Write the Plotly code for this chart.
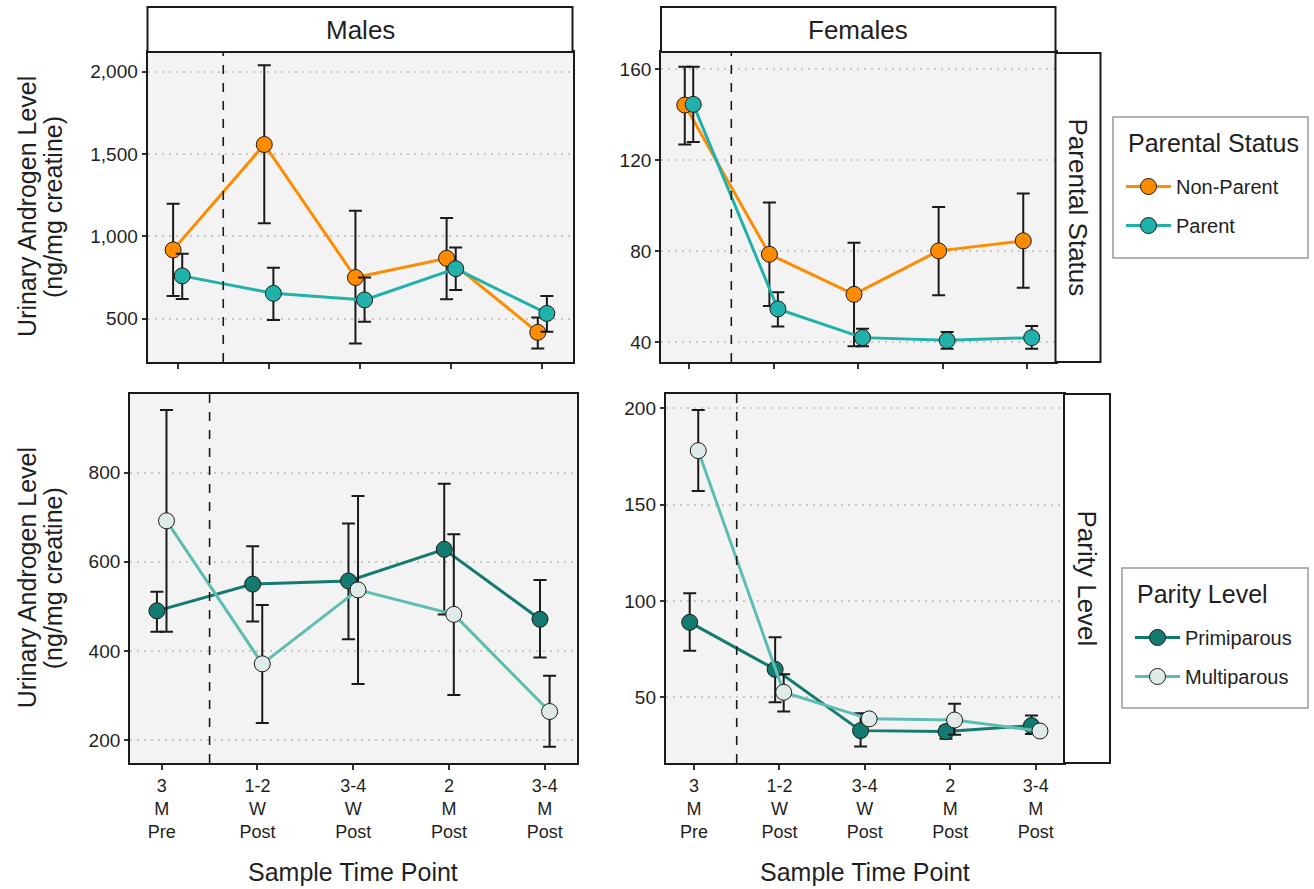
import plotly.graph_objects as go

# ---------------- data ----------------
time_labels = ["3<br>M<br>Pre", "1-2<br>W<br>Post", "3-4<br>W<br>Post", "2<br>M<br>Post", "3-4<br>M<br>Post"]
time_pos = [1, 2, 3, 4, 5]

# Males - Parental Status
male_nonparent = [918, 1558, 750, 867, 417]
male_nonparent_hi = [1198, 2039, 1156, 1111, 508]
male_nonparent_lo = [638, 1080, 350, 618, 319]
male_parent = [760, 654, 614, 804, 532]
male_parent_hi = [894, 810, 750, 932, 638]
male_parent_lo = [620, 492, 482, 674, 421]

# Females - Parental Status
fem_nonparent = [144.2, 78.7, 61.1, 80.2, 84.6]
fem_nonparent_hi = [161, 101.4, 83.8, 99.5, 105.4]
fem_nonparent_lo = [126.9, 56, 38.3, 60.7, 64]
fem_parent = [144.5, 54.7, 42.1, 40.9, 42.1]
fem_parent_hi = [161, 62, 46, 44.6, 47.2]
fem_parent_lo = [128, 47, 38.3, 37.2, 37.2]

# Males - Parity Level
male_primi = [490, 550, 557, 628, 471]
male_primi_hi = [533, 635, 686, 775, 559]
male_primi_lo = [443, 466, 426, 482, 385]
male_multi = [692, 371, 537, 482, 264]
male_multi_hi = [941, 503, 748, 662, 344]
male_multi_lo = [443, 238, 326, 301, 185]

# Females - Parity Level
fem_primi = [88.9, 64.5, 32.7, 32.2, 35.3]
fem_primi_hi = [104, 81.1, 41.7, 35, 40.5]
fem_primi_lo = [74.2, 47.4, 24.4, 28.5, 31]
fem_multi = [178, 52.6, 38.8, 38.2, 32.5]
fem_multi_hi = [199.1, 62, 41, 46.6, 34]
fem_multi_lo = [157, 42.6, 36.5, 30.5, 31]

# ---------------- styling ----------------
W, H = 1314, 889
FONT = "Liberation Sans, Arial, sans-serif"
TXT = "#1f1f1f"
ORANGE = "#FF8C00"
TEAL = "#20B2AA"
DARKTEAL = "#137A6F"
LIGHTLINE = "#5DBDB1"
LIGHTFILL = "#DFEAE9"
PANEL_BG = "#F3F3F3"
DODGE = 0.05


def px(x):
    return x / W


def py(y):
    return 1 - y / H


# panel pixel boxes: (left, right, top, bottom)
panels = {
    1: (147.5, 572.5, 52, 362),
    2: (661, 1055.5, 52, 362),
    3: (130, 576.5, 393.5, 763),
    4: (665.7, 1064, 394, 763),
}
yranges = {1: [237, 2120], 2: [31.4, 167.5], 3: [148.4, 977.8], 4: [15.9, 207.4]}
yticks = {1: [500, 1000, 1500, 2000], 2: [40, 80, 120, 160], 3: [200, 400, 600, 800], 4: [50, 100, 150, 200]}

fig = go.Figure()


def add_series(k, vals, hi, lo, offset, name, line_color, fill_color, legend, show):
    xs = [p + offset for p in time_pos]
    xa = "x" if k == 1 else f"x{k}"
    ya = "y" if k == 1 else f"y{k}"
    # error bars (drawn underneath)
    fig.add_trace(go.Scatter(
        x=xs, y=vals, mode="markers", xaxis=xa, yaxis=ya,
        marker=dict(size=1, opacity=0),
        error_y=dict(type="data", symmetric=False,
                     array=[h - v for h, v in zip(hi, vals)],
                     arrayminus=[v - l for v, l in zip(vals, lo)],
                     color="#1a1a1a", thickness=2, width=6.5),
        showlegend=False, hoverinfo="skip"))
    fig.add_trace(go.Scatter(
        x=xs, y=vals, mode="lines+markers", xaxis=xa, yaxis=ya, name=name,
        line=dict(color=line_color, width=3),
        marker=dict(size=16, color=fill_color, line=dict(color="#1a1a1a", width=1)),
        showlegend=show, legend=legend, legendgroup=name))


add_series(1, male_nonparent, male_nonparent_hi, male_nonparent_lo, -DODGE, "Non-Parent", ORANGE, ORANGE, "legend", False)
add_series(1, male_parent, male_parent_hi, male_parent_lo, DODGE, "Parent", TEAL, TEAL, "legend", False)
add_series(2, fem_nonparent, fem_nonparent_hi, fem_nonparent_lo, -DODGE, "Non-Parent", ORANGE, ORANGE, "legend", True)
add_series(2, fem_parent, fem_parent_hi, fem_parent_lo, DODGE, "Parent", TEAL, TEAL, "legend", True)
add_series(3, male_primi, male_primi_hi, male_primi_lo, -DODGE, "Primiparous", DARKTEAL, DARKTEAL, "legend2", False)
add_series(3, male_multi, male_multi_hi, male_multi_lo, DODGE, "Multiparous", LIGHTLINE, LIGHTFILL, "legend2", False)
add_series(4, fem_primi, fem_primi_hi, fem_primi_lo, -DODGE, "Primiparous", DARKTEAL, DARKTEAL, "legend2", True)
add_series(4, fem_multi, fem_multi_hi, fem_multi_lo, DODGE, "Multiparous", LIGHTLINE, LIGHTFILL, "legend2", True)

# legend boxes: (left, right, top, bottom, title, title_y, first_item_top)
legend_boxes = [
    (1113, 1308, 117, 258, "Parental Status", 143, 167),
    (1122, 1308, 568, 708, "Parity Level", 594, 618),
]

layout = dict(
    width=W, height=H, margin=dict(l=0, r=0, t=0, b=0),
    paper_bgcolor="white", plot_bgcolor=PANEL_BG,
    font=dict(family=FONT, color=TXT, size=18),
    showlegend=True,
)

shapes = []
annotations = []
for i, (l, r, t, b, title, ty, itop) in enumerate(legend_boxes):
    key = "legend" if i == 0 else "legend2"
    layout[key] = dict(x=px(l + 8), y=py(itop), xanchor="left", yanchor="top",
                       bgcolor="rgba(0,0,0,0)", borderwidth=0,
                       font=dict(size=20), tracegroupgap=10, traceorder="grouped",
                       itemwidth=45)
    shapes.append(dict(type="rect", xref="paper", yref="paper",
                       x0=px(l), x1=px(r), y0=py(b), y1=py(t),
                       fillcolor="white", line=dict(color="#9a9a9a", width=1.5),
                       layer="below"))
    annotations.append(dict(text=title, xref="paper", yref="paper",
                            x=px(l + 13), y=py(ty), showarrow=False,
                            xanchor="left", yanchor="middle",
                            font=dict(size=25, color=TXT)))

for k, (l, r, t, b) in panels.items():
    sx = "" if k == 1 else str(k)
    layout[f"xaxis{sx}"] = dict(
        domain=[px(l), px(r)], range=[0.669, 5.331], anchor=f"y{sx}",
        tickvals=time_pos, ticktext=time_labels, showticklabels=(k >= 3),
        ticks="outside", ticklen=5, tickwidth=1.5, tickcolor="#333",
        showgrid=False, zeroline=False, showline=True, mirror=True,
        linecolor="#1a1a1a", linewidth=1.8, tickfont=dict(size=18, color=TXT))
    layout[f"yaxis{sx}"] = dict(
        domain=[py(b), py(t)], range=yranges[k], anchor=f"x{sx}",
        tickvals=yticks[k], tickformat=",", ticks="outside", ticklen=4,
        tickwidth=1.5, tickcolor="#333",
        showgrid=True, gridcolor="#c9c9c9", gridwidth=1.5, griddash="2px,5px",
        zeroline=False, showline=True, mirror=True,
        linecolor="#1a1a1a", linewidth=1.8, tickfont=dict(size=19, color=TXT))
    # dashed vertical separator between pre and post
    shapes.append(dict(type="line", xref=f"x{sx}", yref=f"y{sx} domain",
                       x0=1.5, x1=1.5, y0=0, y1=1,
                       line=dict(color="#1a1a1a", width=1.6, dash="dash")))

# strips (top)
for (l, r), label in [((147.5, 572.5), "Males"), ((661, 1055.5), "Females")]:
    shapes.append(dict(type="rect", xref="paper", yref="paper",
                       x0=px(l), x1=px(r), y0=py(52), y1=py(7),
                       fillcolor="white", line=dict(color="#1a1a1a", width=2)))
    annotations.append(dict(text=label, xref="paper", yref="paper",
                            x=px((l + r) / 2), y=py(30), showarrow=False,
                            xanchor="center", yanchor="middle",
                            font=dict(size=26, color=TXT)))
# strips (right)
for (l, r, t, b), label in [((1055.5, 1100.5, 53, 362), "Parental Status"),
                            ((1064, 1110, 394, 763), "Parity Level")]:
    shapes.append(dict(type="rect", xref="paper", yref="paper",
                       x0=px(l), x1=px(r), y0=py(b), y1=py(t),
                       fillcolor="white", line=dict(color="#1a1a1a", width=2)))
    annotations.append(dict(text=label, xref="paper", yref="paper",
                            x=px((l + r) / 2), y=py((t + b) / 2), showarrow=False,
                            xanchor="center", yanchor="middle",
                            textangle=90, font=dict(size=26, color=TXT)))

# axis titles (two lines each, placed separately for tighter line spacing)
for yc in [(52 + 362) / 2, (393.5 + 763) / 2]:
    for txt, xc in [("Urinary Androgen Level", 27), ("(ng/mg creatine)", 53)]:
        annotations.append(dict(text=txt, xref="paper", yref="paper",
                                x=px(xc), y=py(yc), showarrow=False,
                                xanchor="center", yanchor="middle", textangle=-90,
                                font=dict(size=25, color=TXT)))
for xc in [(130 + 576.5) / 2, (665.7 + 1064) / 2]:
    annotations.append(dict(text="Sample Time Point", xref="paper", yref="paper",
                            x=px(xc), y=py(872), showarrow=False,
                            xanchor="center", yanchor="middle",
                            font=dict(size=25, color=TXT)))

layout["shapes"] = shapes
layout["annotations"] = annotations
fig.update_layout(**layout)
fig.write_html("out.html", config={"displayModeBar": False},
               post_script="document.body.style.margin='0';document.body.style.padding='0';")
